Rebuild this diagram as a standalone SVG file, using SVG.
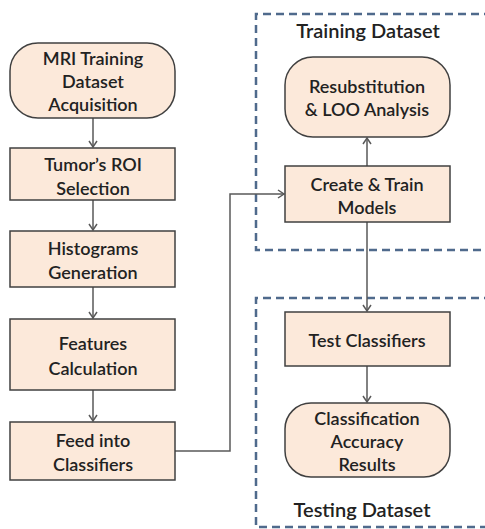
<svg xmlns="http://www.w3.org/2000/svg" width="485" height="529" viewBox="0 0 485 529">
<defs>
<style>
.n{fill:#FCE9DA;stroke:#404040;stroke-width:1.5}
.t{font-family:Lato,"Liberation Sans",sans-serif;font-size:18px;fill:#222;text-anchor:middle;font-weight:600}
.h{font-size:20px}
.c{fill:none;stroke:#595959;stroke-width:1.5}
.g{fill:none;stroke:#4F6A8C;stroke-width:2.5;stroke-dasharray:8 5}
</style>
<marker id="a" markerWidth="10" markerHeight="10" refX="7" refY="5" orient="auto" markerUnits="userSpaceOnUse">
<path d="M1,1 L7,5 L1,9" fill="none" stroke="#595959" stroke-width="1.5"/>
</marker>
</defs>
<g id="groups">
<path class="g" d="M492,14 H256 V250 H492"/>
<path class="g" d="M492,298 H256 V527 H492"/>
<text class="t h" x="368" y="38">Training Dataset</text>
<text class="t h" x="362" y="517">Testing Dataset</text>
</g>
<g id="connectors">
<line class="c" x1="93" y1="118" x2="93" y2="147" marker-end="url(#a)"/>
<line class="c" x1="93" y1="200" x2="93" y2="230" marker-end="url(#a)"/>
<line class="c" x1="93" y1="287" x2="93" y2="318" marker-end="url(#a)"/>
<line class="c" x1="93" y1="390" x2="93" y2="421" marker-end="url(#a)"/>
<path class="c" d="M175,451 H230 V194 H284" marker-end="url(#a)"/>
<line class="c" x1="367" y1="166" x2="367" y2="138" marker-end="url(#a)"/>
<line class="c" x1="367" y1="222" x2="367" y2="311" marker-end="url(#a)"/>
<line class="c" x1="367" y1="366" x2="367" y2="402" marker-end="url(#a)"/>
</g>
<g id="mri">
<rect class="n" x="10" y="43" width="165" height="75" rx="28"/>
<text class="t" x="93" y="65">MRI Training</text>
<text class="t" x="93" y="88">Dataset</text>
<text class="t" x="93" y="111">Acquisition</text>
</g>
<g id="roi">
<rect class="n" x="10" y="148" width="165" height="52"/>
<text class="t" x="93" y="171">Tumor’s ROI</text>
<text class="t" x="93" y="195">Selection</text>
</g>
<g id="hist">
<rect class="n" x="10" y="231" width="165" height="56"/>
<text class="t" x="93" y="255">Histograms</text>
<text class="t" x="93" y="279">Generation</text>
</g>
<g id="feat">
<rect class="n" x="10" y="319" width="165" height="71"/>
<text class="t" x="93" y="350">Features</text>
<text class="t" x="93" y="375">Calculation</text>
</g>
<g id="feed">
<rect class="n" x="10" y="422" width="165" height="58"/>
<text class="t" x="93" y="447">Feed into</text>
<text class="t" x="93" y="471">Classifiers</text>
</g>
<g id="resub">
<rect class="n" x="285" y="57" width="165" height="80" rx="28"/>
<text class="t" x="367" y="93">Resubstitution</text>
<text class="t" x="367" y="116">&amp; LOO Analysis</text>
</g>
<g id="create">
<rect class="n" x="285" y="166" width="165" height="56"/>
<text class="t" x="367" y="191">Create &amp; Train</text>
<text class="t" x="367" y="214">Models</text>
</g>
<g id="test">
<rect class="n" x="285" y="312" width="165" height="54"/>
<text class="t" x="367" y="347">Test Classifiers</text>
</g>
<g id="acc">
<rect class="n" x="285" y="403" width="165" height="74" rx="26"/>
<text class="t" x="367" y="425">Classification</text>
<text class="t" x="367" y="448">Accuracy</text>
<text class="t" x="367" y="471">Results</text>
</g>
</svg>
